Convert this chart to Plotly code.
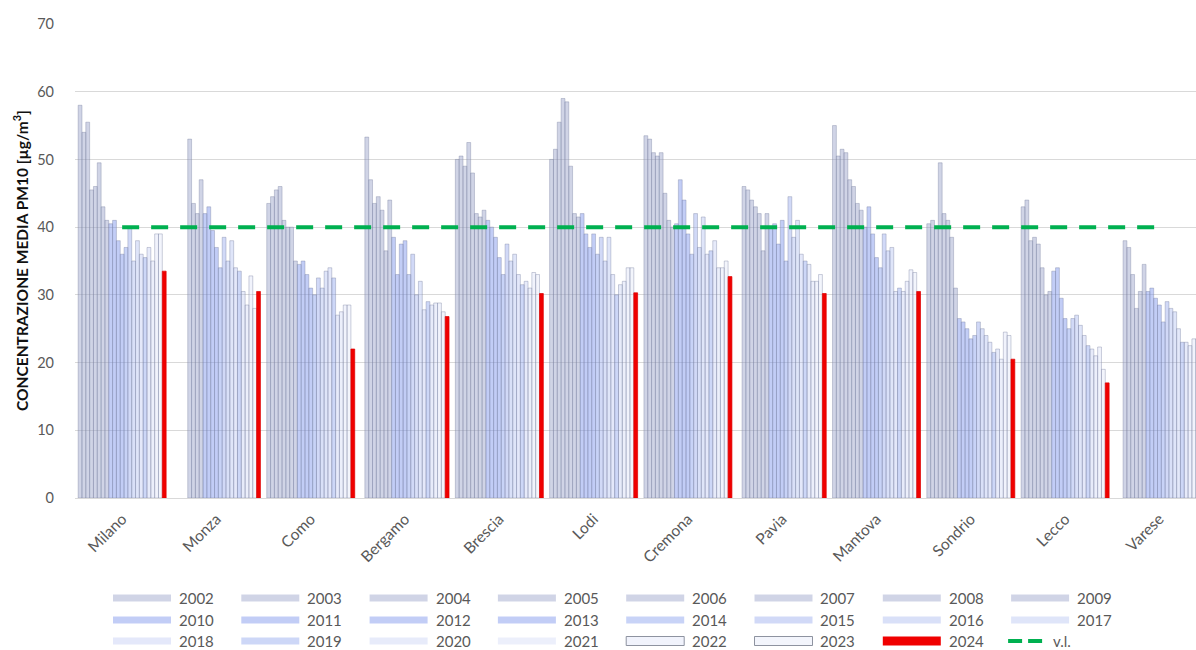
import plotly.graph_objects as go

# Stations and years
cities = ["Milano", "Monza", "Como", "Bergamo", "Brescia", "Lodi",
          "Cremona", "Pavia", "Mantova", "Sondrio", "Lecco", "Varese"]
years = list(range(2002, 2025))

# Annual mean PM10 [µg/m³], 2002 -> 2024 (None = no data)
milano  = [58.0, 54.0, 55.5, 45.5, 46.0, 49.5, 43.0, 41.0, 40.5, 41.0, 38.0, 36.0,
           37.0, 40.0, 35.0, 38.0, 36.0, 35.5, 37.0, 35.0, 39.0, 39.0, 33.5]
monza   = [None, None, None, None, 53.0, 43.5, 42.0, 47.0, 42.0, 43.0, 39.5, 37.0,
           34.0, 38.5, 35.0, 38.0, 34.0, 33.5, 30.5, 28.5, 32.8, 28.0, 30.5]
como    = [43.5, 44.5, 45.5, 46.0, 41.0, 40.0, 40.0, 35.0, 34.5, 35.0, 33.0, 31.0,
           30.0, 32.5, 31.0, 33.5, 34.0, 32.5, 27.0, 27.5, 28.5, 28.5, 22.0]
bergamo = [None, 53.3, 47.0, 43.5, 44.5, 42.5, 36.5, 44.0, 38.5, 33.0, 37.5, 38.0,
           33.0, 36.0, 30.0, 32.0, 27.8, 29.0, 28.5, 28.8, 28.8, 27.5, 26.8]
brescia = [50.0, 50.5, 49.0, 52.5, 48.0, 42.0, 41.5, 42.5, 41.0, 40.0, 38.5, 35.5,
           33.0, 37.5, 35.0, 36.0, 33.0, 31.5, 32.0, 31.0, 33.3, 33.0, 30.2]
lodi    = [50.0, 51.5, 55.5, 59.0, 58.5, 49.0, 42.0, 41.5, 42.0, 39.0, 37.0, 39.0,
           36.0, 38.5, 35.0, 38.5, 33.0, 30.0, 31.5, 32.0, 34.0, 34.0, 30.3]
cremona = [53.5, 53.0, 51.0, 50.5, 51.0, 45.0, 41.0, 40.0, 40.5, 47.0, 44.0, 39.0,
           36.0, 42.0, 37.0, 41.5, 36.0, 36.5, 38.0, 34.0, 34.0, 35.0, 32.7]
pavia   = [None, 46.0, 45.5, 44.0, 43.0, 42.0, 36.5, 42.0, 40.0, 40.5, 37.5, 41.0,
           35.0, 44.5, 38.5, 41.0, 36.0, 35.0, 34.5, 32.0, 32.0, 33.0, 30.2]
mantova = [55.0, 50.5, 51.5, 51.0, 47.0, 46.0, 43.5, 42.5, 40.0, 43.0, 39.0, 35.5,
           34.0, 39.0, 36.5, 37.0, 30.5, 31.0, 30.5, 32.0, 33.7, 33.3, 30.5]
sondrio = [40.5, 41.0, 40.0, 49.5, 42.0, 41.0, 38.5, 31.0, 26.5, 26.0, 25.0, 23.5,
           24.0, 26.0, 25.0, 24.0, 23.0, 21.5, 22.0, 20.5, 24.5, 24.0, 20.5]
lecco   = [43.0, 44.0, 38.0, 38.5, 37.5, 34.0, 30.0, 30.5, 33.5, 34.0, 29.5, 26.5,
           25.0, 26.5, 27.0, 25.5, 24.0, 22.5, 22.0, 21.0, 22.3, 19.0, 17.0]
varese  = [None, None, 38.0, 37.0, 33.0, 28.0, 30.5, 34.5, 30.5, 31.0, 29.5, 28.5,
           26.0, 29.0, 28.0, 27.5, 25.0, 23.0, 23.0, 22.5, 23.5, 23.5, 21.5]

stations = [milano, monza, como, bergamo, brescia, lodi,
            cremona, pavia, mantova, sondrio, lecco, varese]

limit_value = 40  # v.l.

# Bar styling per year (fill, outline)
year_fill = (
    ["rgba(150,160,200,0.45)"] * 8 +          # 2002-2009
    ["rgba(120,145,235,0.45)"] * 4 +          # 2010-2013
    ["rgba(125,150,235,0.42)", "rgba(140,160,235,0.40)",
     "rgba(150,170,235,0.36)", "rgba(160,178,238,0.34)",
     "rgba(170,185,240,0.32)", "rgba(130,155,235,0.40)",
     "rgba(175,190,240,0.30)", "rgba(185,198,242,0.28)",
     "rgba(215,222,245,0.35)", "rgba(220,226,246,0.35)",
     "rgba(240,0,0,1)"]
)
year_edge = ["rgba(120,128,160,0.55)"] * 22 + ["rgba(220,0,0,1)"]

fig = go.Figure()

for j, yr in enumerate(years):
    fig.add_trace(go.Bar(
        x=cities,
        y=[s[j] for s in stations],
        name=str(yr),
        marker=dict(color=year_fill[j], line=dict(color=year_edge[j], width=0.7)),
        showlegend=False,
        hovertemplate="%{x} " + str(yr) + ": %{y}<extra></extra>",
    ))

fig.add_trace(go.Scatter(
    x=cities,
    y=[limit_value] * len(cities),
    name="v.l.",
    mode="lines",
    line=dict(color="#00b050", width=4, dash="17px,12px"),
    showlegend=False,
))

# Geometry of the plot area in pixels
W, H = 1196, 650
L, R, T, B = 75, 0, 24, 152
PW, PH = W - L - R, H - T - B


def px_x(px):
    return (px - L) / PW


def px_y(py):
    return (H - B - py) / PH


FAMILY = "Lato, 'Open Sans', sans-serif"
TICK_FONT = dict(family=FAMILY, size=14.5, color="#595959")

# Custom legend: 8 columns x 3 rows
shapes = []
annotations = []
col0, col_step = 113, 128.3
row_y = [598, 620, 641]
sw_w = 58
for j, yr in enumerate(years):
    r, c = divmod(j, 8)
    x0 = col0 + c * col_step
    yc = row_y[r]
    hh = 4.5 if yr == 2024 else 3.5
    edge_w = 0
    edge = "rgba(0,0,0,0)"
    if yr in (2022, 2023):
        edge = "rgba(130,135,150,0.9)"
        edge_w = 1
        hh = 4.5
    shapes.append(dict(
        type="rect", xref="paper", yref="paper",
        x0=px_x(x0), x1=px_x(x0 + sw_w),
        y0=px_y(yc + hh), y1=px_y(yc - hh),
        fillcolor=year_fill[j], line=dict(color=edge, width=edge_w),
        layer="above",
    ))
    annotations.append(dict(
        text=str(yr), xref="paper", yref="paper",
        x=px_x(x0 + sw_w + 6), y=px_y(yc), xanchor="left", yanchor="middle",
        showarrow=False, font=dict(family=FAMILY, size=15, color="#595959"),
    ))

# v.l. legend entry
vx0 = col0 + 7 * col_step - 3
shapes.append(dict(
    type="line", xref="paper", yref="paper",
    x0=px_x(vx0), x1=px_x(vx0 + 40), y0=px_y(row_y[2]), y1=px_y(row_y[2]),
    line=dict(color="#00b050", width=4, dash="14px,6px"),
))
annotations.append(dict(
    text="v.l.", xref="paper", yref="paper",
    x=px_x(vx0 + 43), y=px_y(row_y[2]), xanchor="left", yanchor="middle",
    showarrow=False, font=dict(family=FAMILY, size=15, color="#595959"),
))

# Y axis title
annotations.append(dict(
    text="CONCENTRAZIONE MEDIA PM10 [µg/m<sup>3</sup>]",
    xref="paper", yref="paper", x=px_x(20), y=0.5,
    xanchor="center", yanchor="middle", textangle=-90, showarrow=False,
    font=dict(family=FAMILY, size=15.5, color="#111111", weight="bold"),
))

fig.update_layout(
    width=W, height=H,
    margin=dict(l=L, r=R, t=T, b=B, pad=0),
    paper_bgcolor="white",
    plot_bgcolor="white",
    barmode="group",
    bargap=0.067,
    bargroupgap=0,
    shapes=shapes,
    annotations=annotations,
    showlegend=False,
)

fig.update_xaxes(
    type="category",
    range=[-0.5, 11.388],
    tickangle=-45,
    tickfont=dict(family=FAMILY, size=15.5, color="#595959"),
    ticklabelstandoff=8,
    showgrid=False,
    showline=False,
    ticks="",
    zeroline=False,
)
fig.update_yaxes(
    range=[0, 70],
    dtick=10,
    tick0=0,
    showgrid=True,
    gridcolor="#d9d9d9",
    gridwidth=1,
    zeroline=True,
    zerolinecolor="#d9d9d9",
    zerolinewidth=1,
    showline=False,
    ticks="",
    tickfont=TICK_FONT,
    ticklabelstandoff=20,
)

fig.write_html("out.html")
